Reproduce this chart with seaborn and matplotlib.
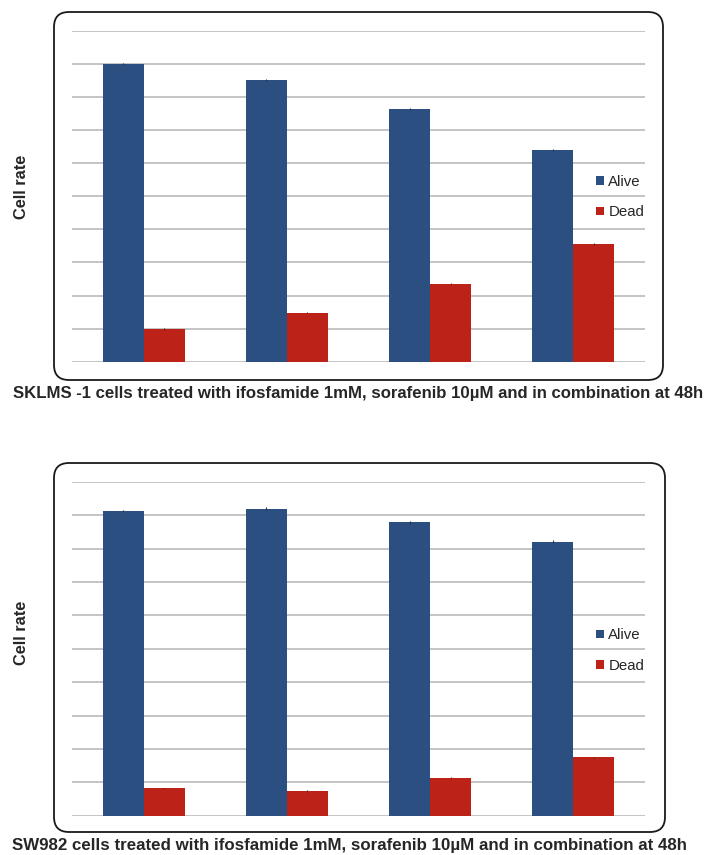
import matplotlib
matplotlib.use("Agg")
import matplotlib.pyplot as plt
from matplotlib.patches import FancyBboxPatch, Patch
import seaborn as sns
import pandas as pd
import numpy as np

# Treatment groups (not labelled on the axis) and the two cell states
treatments = ["Control", "Ifosfamide 1mM", "Sorafenib 10µM", "Combination"]
states = ["Alive", "Dead"]

# SKLMS-1 cell rates
sklms_alive = [0.898, 0.850, 0.762, 0.640]
sklms_dead = [0.099, 0.148, 0.236, 0.356]
sklms_err_alive = [0.003, 0.003, 0.003, 0.002]
sklms_err_dead = [0.002, 0.002, 0.002, 0.002]

# SW982 cell rates
sw_alive = [0.912, 0.919, 0.878, 0.820]
sw_dead = [0.082, 0.074, 0.114, 0.175]
sw_err_alive = [0.004, 0.004, 0.004, 0.004]
sw_err_dead = [0.002, 0.002, 0.002, 0.002]

captions = [
    "SKLMS -1 cells treated with ifosfamide 1mM, sorafenib 10µM and in combination at 48h",
    "SW982 cells treated with ifosfamide 1mM, sorafenib 10µM and in combination at 48h",
]

BLUE = "#2b4f81"
RED = "#bd2219"
GRID = "#c4c4c4"

sns.set_theme(style="white")
plt.rcParams["font.family"] = ["Liberation Sans", "DejaVu Sans"]

fig = plt.figure(figsize=(7.12, 8.55), dpi=100)


def long_frame(alive, dead):
    return pd.DataFrame({
        "treatment": treatments * 2,
        "state": [states[0]] * 4 + [states[1]] * 4,
        "rate": list(alive) + list(dead),
    })


def draw_panel(ax, alive, dead, err_alive, err_dead, legend_y):
    df = long_frame(alive, dead)
    sns.barplot(data=df, x="treatment", y="rate", hue="state",
                order=treatments, hue_order=states,
                palette=[BLUE, RED], saturation=1, width=0.573, gap=0,
                errorbar=None, legend=False, ax=ax, zorder=3,
                edgecolor="none", linewidth=0)
    # error bars centred on each drawn bar
    bars = ax.patches[:8]
    errs = list(err_alive) + list(err_dead)
    for bar, e in zip(bars, errs):
        xc = bar.get_x() + bar.get_width() / 2
        ax.errorbar(xc, bar.get_height(), yerr=e, color="#333333",
                    linewidth=0.8, capsize=0, zorder=4)
    ax.set_xlim(-0.5, 3.5)
    ax.set_ylim(0, 1.0)
    ax.set_yticks(np.arange(0, 1.01, 0.1))
    ax.set_xticks([])
    ax.tick_params(left=False, bottom=False, labelleft=False, labelbottom=False)
    ax.grid(axis="y", color=GRID, linewidth=1.4, zorder=0)
    ax.set_axisbelow(True)
    for s in ax.spines.values():
        s.set_visible(False)
    ax.set_xlabel("")
    ax.set_ylabel("")
    ax.patch.set_alpha(0)
    handles = [Patch(facecolor=BLUE, edgecolor="none"),
               Patch(facecolor=RED, edgecolor="none")]
    ax.legend(handles, states, loc="center left",
              bbox_to_anchor=(0.915, legend_y), frameon=False,
              fontsize=10.8, handlelength=0.5, handleheight=0.5,
              handletextpad=0.3, labelspacing=1.1, borderpad=0,
              borderaxespad=0)


ax_top = fig.add_axes([72 / 712, (855 - 361.7) / 855, 573 / 712, 331 / 855])
ax_bot = fig.add_axes([72 / 712, (855 - 815.7) / 855, 573 / 712, 334 / 855])

draw_panel(ax_top, sklms_alive, sklms_dead, sklms_err_alive, sklms_err_dead, 0.498)
draw_panel(ax_bot, sw_alive, sw_dead, sw_err_alive, sw_err_dead, 0.495)

# rounded frames around each chart (inches, so corners stay circular)
for (x0, y0, x1, y1) in [(0.54, 4.75, 6.63, 8.43), (0.54, 0.23, 6.65, 3.92)]:
    box = FancyBboxPatch((x0, y0), x1 - x0, y1 - y0,
                         boxstyle="round,pad=0,rounding_size=0.15",
                         transform=fig.dpi_scale_trans, facecolor="none",
                         edgecolor="#1a1a1a", linewidth=1.3, zorder=10)
    fig.add_artist(box)

# axis titles and captions
for yc in [187, 633]:
    fig.text(21 / 712, 1 - yc / 855, "Cell rate", rotation=90,
             ha="center", va="center", fontsize=11.8, fontweight="bold")

fig.text(13 / 712, 1 - 393 / 855, captions[0], ha="left", va="center",
         fontsize=12.1, fontweight="bold")
fig.text(12 / 712, 1 - 845 / 855, captions[1], ha="left", va="center",
         fontsize=12.2, fontweight="bold")

fig.savefig("out.png", dpi=100, facecolor="white")
